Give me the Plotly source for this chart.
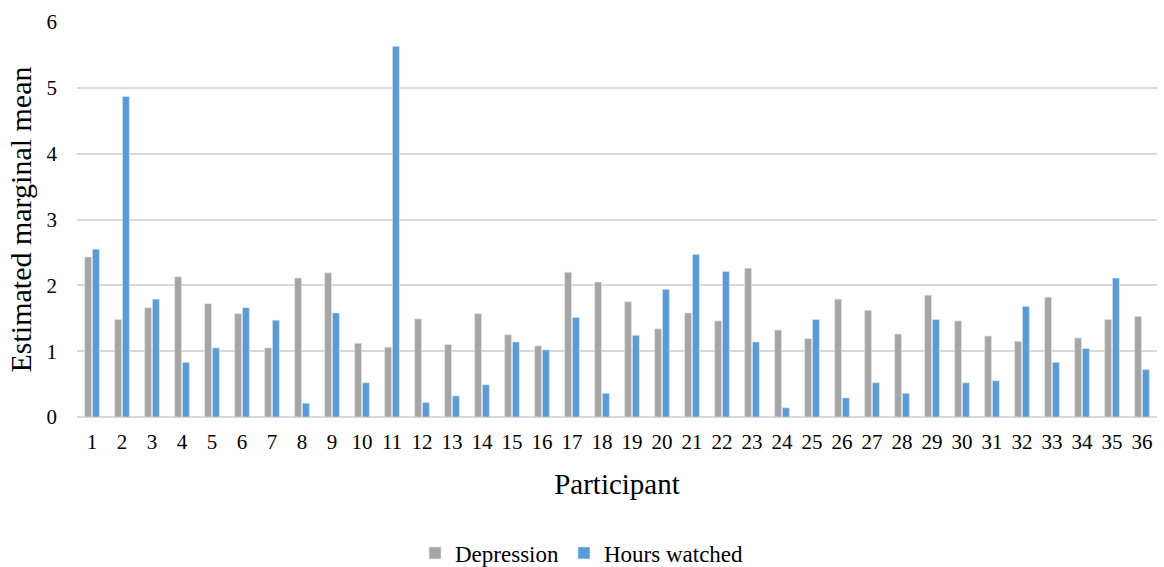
import plotly.graph_objects as go

participants = [str(i) for i in range(1, 37)]
depression = [2.43, 1.48, 1.66, 2.13, 1.72, 1.57, 1.05, 2.11, 2.19, 1.12,
              1.06, 1.49, 1.10, 1.57, 1.25, 1.08, 2.20, 2.05, 1.75, 1.34,
              1.58, 1.46, 2.26, 1.32, 1.19, 1.79, 1.62, 1.26, 1.85, 1.46,
              1.23, 1.15, 1.82, 1.20, 1.48, 1.53]
hours_watched = [2.55, 4.87, 1.79, 0.83, 1.05, 1.66, 1.47, 0.21, 1.58, 0.52,
                 5.63, 0.22, 0.32, 0.49, 1.14, 1.02, 1.51, 0.36, 1.24, 1.94,
                 2.47, 2.21, 1.14, 0.14, 1.48, 0.29, 0.52, 0.36, 1.48, 0.52,
                 0.55, 1.68, 0.83, 1.04, 2.11, 0.72]
y_ticks = [0, 1, 2, 3, 4, 5, 6]

font_family = "Liberation Serif"

fig = go.Figure()
fig.add_trace(go.Bar(x=participants, y=depression, name="Depression",
                     marker=dict(color="#A5A5A5", line=dict(color="#E6E6E6", width=0.6))))
fig.add_trace(go.Bar(x=participants, y=hours_watched, name="Hours watched",
                     marker=dict(color="#5B9BD5", line=dict(color="#D6E6F5", width=0.6))))

fig.update_layout(
    width=1164, height=567,
    margin=dict(l=77, r=7, t=22, b=150),
    plot_bgcolor="white", paper_bgcolor="white",
    barmode="group", bargap=0.48, bargroupgap=0.12,
    font=dict(family=font_family, color="#000000", size=21),
    legend=dict(orientation="h", x=0.5, xanchor="center", xref="container",
                y=14 / 567, yanchor="middle", yref="container",
                font=dict(size=23, family=font_family),
                itemwidth=30, traceorder="normal"),
    xaxis=dict(
        title=dict(text="Participant", font=dict(size=29, family=font_family), standoff=20),
        tickfont=dict(size=21, family=font_family), ticklabelstandoff=10,
        showgrid=False, showline=False, ticks="", automargin=False,
    ),
    yaxis=dict(
        title=dict(text="Estimated marginal mean", font=dict(size=30, family=font_family), standoff=6),
        range=[0, 6], tickvals=y_ticks, tickfont=dict(size=21, family=font_family),
        ticklabelstandoff=19,
        showgrid=True, gridcolor="#D9D9D9", gridwidth=1.5,
        zeroline=True, zerolinecolor="#D9D9D9", zerolinewidth=1.5,
        showline=False, ticks="", automargin=False,
    ),
)

fig.write_html("out.html")
